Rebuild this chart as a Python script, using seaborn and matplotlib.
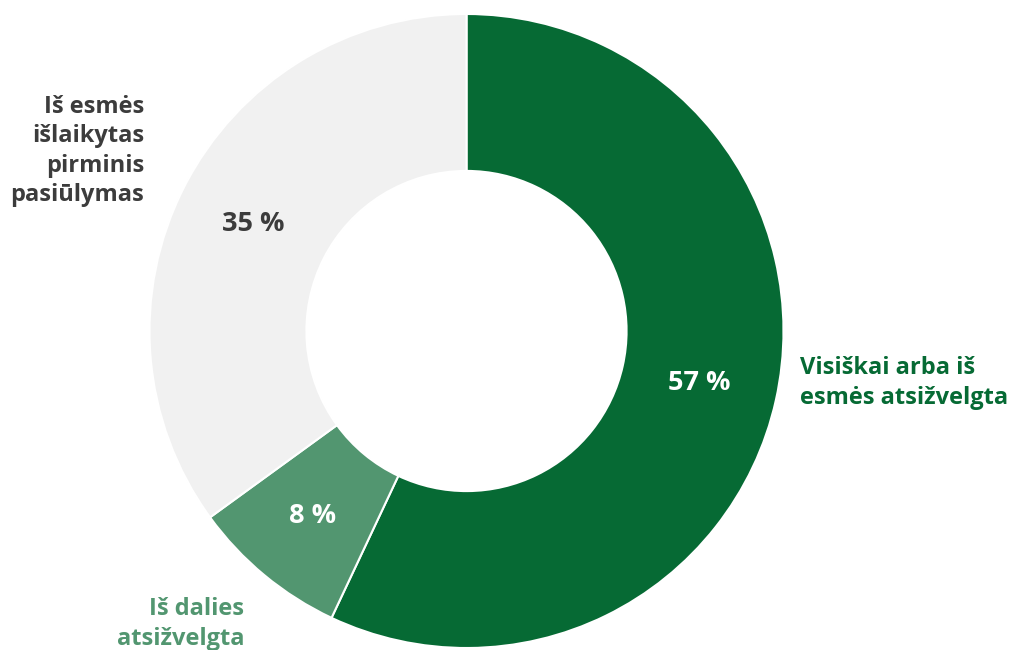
import matplotlib
matplotlib.use("Agg")
import matplotlib.pyplot as plt
import seaborn as sns

sns.set_theme(style="white")
plt.rcParams['font.family'] = ['Open Sans', 'DejaVu Sans']

categories = ["Visiškai arba iš\nesmės atsižvelgta", "Iš dalies\natsižvelgta",
              "Iš esmės\nišlaikytas\npirminis\npasiūlymas"]
values = [57, 8, 35]
pct_labels = ["57 %", "8 %", "35 %"]
colors = ["#066a34", "#529670", "#f1f1f1"]
label_colors = ["#066a34", "#529670", "#3c3c3c"]
pct_colors = ["white", "white", "#3c3c3c"]

W, H = 1012, 650
fig = plt.figure(figsize=(W / 100, H / 100), dpi=100)
cx, cy, R = 466.5, 331, 317
ax = fig.add_axes([(cx - R) / W, (H - cy - R) / H, 2 * R / W, 2 * R / H])

wedges, _ = ax.pie(values, colors=colors, startangle=90, counterclock=False,
                   radius=1, wedgeprops=dict(width=0.495, edgecolor="white", linewidth=1.5))
ax.set_xlim(-1, 1)
ax.set_ylim(-1, 1)
ax.set_aspect("equal")
ax.axis("off")

def px(x, y):
    return (x - cx) / R, (cy - y) / R

fs = 17
pct_pos = [px(699, 383), px(313, 516), px(253, 224)]
for (x, y), t, c in zip(pct_pos, pct_labels, pct_colors):
    ax.text(x, y, t, ha="center", va="center", color=c, fontsize=19.5, fontweight="bold")

lab_pos = [(px(800, 383), "left"), (px(244, 624), "right"), (px(144, 151), "right")]
for ((x, y), ha), t, c in zip(lab_pos, categories, label_colors):
    ax.text(x, y, t, ha=ha, va="center", multialignment=ha, color=c, fontsize=fs,
            fontweight="bold", linespacing=1.3, clip_on=False)

fig.savefig("out.png", dpi=100)
